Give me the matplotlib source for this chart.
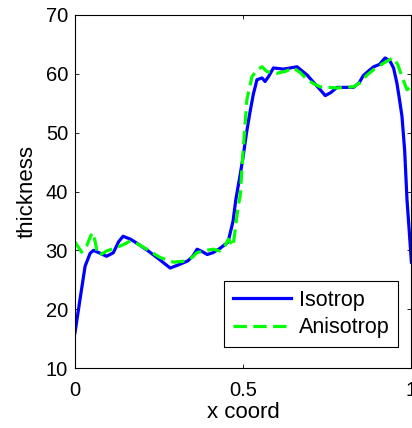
import matplotlib
matplotlib.use("Agg")
import matplotlib.pyplot as plt

# Isotrop (solid blue)
iso_x = [0, 0.015, 0.03, 0.045, 0.055, 0.075, 0.094, 0.114, 0.13, 0.143, 0.165, 0.19,
         0.22, 0.25, 0.283, 0.31, 0.335, 0.35, 0.363, 0.378, 0.393, 0.41, 0.43, 0.455,
         0.47, 0.478, 0.49, 0.5, 0.51, 0.52, 0.53, 0.541, 0.556, 0.565, 0.575, 0.59,
         0.62, 0.66, 0.69, 0.71, 0.729, 0.744, 0.76, 0.779, 0.8, 0.828, 0.845, 0.857,
         0.875, 0.888, 0.905, 0.922, 0.937, 0.947, 0.957, 0.965, 0.972, 0.98, 0.987,
         0.994, 1.0]
iso_y = [16, 21.7, 27.3, 29.5, 30, 29.5, 29, 29.6, 31.5, 32.4, 31.9, 31,
         29.8, 28.5, 27, 27.6, 28.2, 29, 30.2, 29.8, 29.3, 29.6, 30.3, 31.4,
         35, 38.6, 42.5, 46, 50, 53.4, 56.5, 59, 59.3, 58.7, 59.5, 61,
         60.8, 61.2, 59.8, 58.5, 57.3, 56.3, 56.8, 57.7, 57.7, 57.7, 58.5, 59.7,
         60.6, 61.2, 61.6, 62.7, 62.1, 61, 58.4, 55.5, 52.8, 47, 38.6,
         33, 28]

# Anisotrop (dashed green)
ani_x = [0, 0.02, 0.035, 0.047, 0.054, 0.06, 0.067, 0.08, 0.094, 0.124, 0.145, 0.164,
         0.19, 0.213, 0.253, 0.292, 0.332, 0.35, 0.362, 0.39, 0.411, 0.43, 0.445,
         0.456, 0.47, 0.485, 0.491, 0.5, 0.511, 0.526, 0.54, 0.556, 0.57, 0.6, 0.625,
         0.649, 0.67, 0.69, 0.71, 0.729, 0.779, 0.828, 0.85, 0.868, 0.89, 0.917,
         0.935, 0.947, 0.96, 0.972, 0.987, 1.0]
ani_y = [31.4, 29.7, 30.8, 32.5, 33, 31.5, 29.3, 29.4, 29.9, 30.5, 31, 31.6,
         31, 30.2, 28.8, 28, 28.2, 28.9, 29.6, 30, 30.2, 29.9, 30.7,
         31.9, 30.7, 37.5, 39.2, 47, 55.6, 59.5, 60.6, 61.2, 60.4, 60.1, 60.4,
         61, 60.2, 59, 58.3, 57.8, 57.6, 57.8, 58.6, 59.8, 60.8, 61.8,
         62.4, 62.7, 61.5, 59.5, 57.3, 57.8]

x_ticks = [0, 0.5, 1]
x_tick_labels = ["0", "0.5", "1"]
y_ticks = [10, 20, 30, 40, 50, 60, 70]

plt.rcParams["font.family"] = ["Liberation Sans", "DejaVu Sans"]

fig = plt.figure(figsize=(4.12, 4.28), dpi=100)
ax = fig.add_axes([0.182, 0.140, 0.8165, 0.825])

ax.plot(iso_x, iso_y, color="#0000ff", lw=2.3, label="Isotrop")
ax.plot(ani_x, ani_y, color="#00ff00", lw=2.3, ls=(0, (4.2, 2.0)), label="Anisotrop")

ax.set_xlim(0, 1)
ax.set_ylim(10, 70)
ax.set_xticks(x_ticks)
ax.set_xticklabels(x_tick_labels)
ax.set_yticks(y_ticks)
ax.tick_params(direction="in", top=True, right=True, length=3, width=0.6,
               labelsize=14.5)
ax.tick_params(axis="x", pad=9)
ax.tick_params(axis="y", pad=5)
for sp in ax.spines.values():
    sp.set_linewidth(0.8)

ax.set_xlabel("x coord", fontsize=16, labelpad=2)
ax.set_ylabel("thickness", fontsize=16, labelpad=6)

leg = ax.legend(loc="lower right", fontsize=15.5, frameon=True, fancybox=False,
                edgecolor="black", framealpha=1, handlelength=2.7,
                borderaxespad=0.0, bbox_to_anchor=(0.960, 0.06),
                borderpad=0.4, labelspacing=0.3, handletextpad=0.35)
leg.get_frame().set_linewidth(0.8)

fig.savefig("out.png", dpi=100)
